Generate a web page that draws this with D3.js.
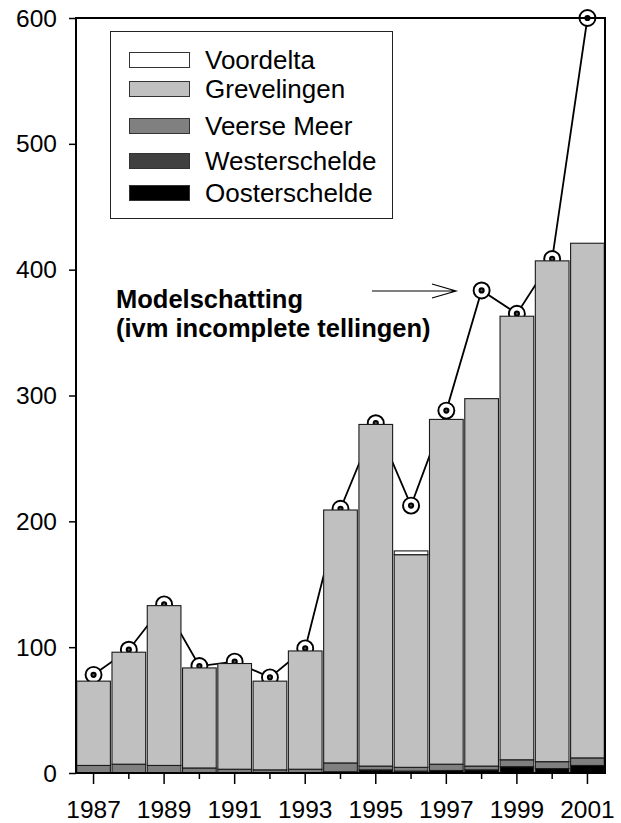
<!DOCTYPE html>
<html>
<head>
<meta charset="utf-8">
<script src="https://cdn.jsdelivr.net/npm/d3@7"></script>
<style>
  body { margin: 0; background: white; }
  svg text { font-family: 'Liberation Sans', Arial, sans-serif; fill: black; }
</style>
</head>
<body>
<div id="chart"></div>
<script>
// counts per area, 1987 - 2001
const years = [1987, 1988, 1989, 1990, 1991, 1992, 1993, 1994, 1995, 1996, 1997, 1998, 1999, 2000, 2001];
const oosterschelde = [0, 0, 0, 0, 0, 0, 0, 1, 2.5, 1.5, 2, 2.5, 5, 3.5, 6];
const westerschelde = [0, 0, 0, 0, 0, 0, 0, 0, 0, 0, 0, 0, 0, 0, 0];
const veerseMeer = [6, 7, 6, 4, 3, 2.5, 3, 7, 3, 3, 5, 3, 5.5, 5.5, 6];
const grevelingen = [67, 89, 127, 79.5, 84, 70.5, 94, 201, 271.5, 169, 274, 292, 352.5, 398, 409];
const voordelta = [0, 0, 0, 0, 0, 0, 0, 0, 0, 3, 0, 0, 0, 0, 0];
// model estimate (line with markers)
const modelschatting = [78, 98, 134, 85, 88.5, 76, 99, 210, 278, 212.5, 288, 383.5, 365, 408.5, 600];
const yTicks = [0, 100, 200, 300, 400, 500, 600];

const series = [
  { key: 'Oosterschelde', values: oosterschelde, color: '#000000' },
  { key: 'Westerschelde', values: westerschelde, color: '#404040' },
  { key: 'Veerse Meer', values: veerseMeer, color: '#808080' },
  { key: 'Grevelingen', values: grevelingen, color: '#c0c0c0' },
  { key: 'Voordelta', values: voordelta, color: '#ffffff' },
];

const makePlot = () => {
  const container = d3.select('#chart');
  container.selectAll('*').remove();

  const size = { width: 621, height: 823 };
  const plot = { left: 76, right: 605, top: 18, bottom: 773 };

  const svg = container
    .append('svg')
    .attr('width', size.width)
    .attr('height', size.height);

  const x = d3
    .scaleBand()
    .domain(years)
    .range([plot.left, plot.right])
    .paddingInner(0.045)
    .paddingOuter(0.02);

  const y = d3.scaleLinear().domain([0, 600]).range([plot.bottom, plot.top]);

  // stack the areas, bottom to top
  const table = years.map((yr, i) => {
    const row = { year: yr };
    series.forEach((s) => { row[s.key] = s.values[i]; });
    return row;
  });
  const stacked = d3.stack().keys(series.map((s) => s.key))(table);
  const colorOf = Object.fromEntries(series.map((s) => [s.key, s.color]));

  // model line sits behind the bars
  const cx = (yr) => x(yr) + x.bandwidth() / 2;
  const line = d3
    .line()
    .x((d, i) => cx(years[i]))
    .y((d) => y(d));

  svg
    .append('path')
    .datum(modelschatting)
    .attr('d', line)
    .attr('fill', 'none')
    .attr('stroke', 'black')
    .attr('stroke-width', 1.8);

  const markers = svg
    .append('g')
    .selectAll('g')
    .data(modelschatting)
    .enter()
    .append('g')
    .attr('transform', (d, i) => `translate(${cx(years[i])},${y(d)})`);
  markers
    .append('circle')
    .attr('r', 8)
    .attr('fill', 'white')
    .attr('stroke', 'black')
    .attr('stroke-width', 1.9);
  markers
    .append('circle')
    .attr('r', 2.1)
    .attr('fill', '#555')
    .attr('stroke', 'black')
    .attr('stroke-width', 2);

  svg
    .append('g')
    .selectAll('g')
    .data(stacked)
    .enter()
    .append('g')
    .attr('fill', (d) => colorOf[d.key])
    .selectAll('rect')
    .data((d) => d.filter((p) => p[1] - p[0] > 0))
    .enter()
    .append('rect')
    .attr('x', (d) => x(d.data.year))
    .attr('width', x.bandwidth())
    .attr('y', (d) => y(d[1]))
    .attr('height', (d) => y(d[0]) - y(d[1]))
    .attr('stroke', '#1a1a1a')
    .attr('stroke-width', 1.1);

  // axes
  const yAxis = svg
    .append('g')
    .attr('transform', `translate(${plot.left},0)`)
    .call(d3.axisLeft(y).tickValues(yTicks).tickSize(7).tickSizeOuter(0).tickPadding(12));
  yAxis.select('.domain').remove();
  yAxis.selectAll('line').attr('stroke-width', 1.5);
  yAxis.selectAll('text').attr('font-size', '24.5px').attr('dy', '0.33em');

  const xAxis = svg
    .append('g')
    .attr('transform', `translate(0,${plot.bottom})`)
    .call(
      d3
        .axisBottom(x)
        .tickSizeOuter(0)
        .tickSize(11)
        .tickPadding(17)
        .tickFormat((d) => (d % 2 === 1 ? d : '')),
    );
  xAxis.select('.domain').remove();
  xAxis
    .selectAll('.tick line')
    .attr('stroke-width', 1.5)
    .attr('y2', (d) => (d % 2 === 1 ? 11 : 6));
  xAxis.selectAll('text').attr('font-size', '24.5px');

  // frame
  svg
    .append('rect')
    .attr('x', plot.left)
    .attr('y', plot.top)
    .attr('width', plot.right - plot.left)
    .attr('height', plot.bottom - plot.top)
    .attr('fill', 'none')
    .attr('stroke', 'black')
    .attr('stroke-width', 2);

  // legend
  const legend = svg.append('g');
  legend
    .append('rect')
    .attr('x', 110.5)
    .attr('y', 31.5)
    .attr('width', 282)
    .attr('height', 187)
    .attr('fill', 'white')
    .attr('stroke', '#222')
    .attr('stroke-width', 1);

  const rowY = [52, 81, 118, 153, 185];
  series
    .slice()
    .reverse()
    .forEach((s, i) => {
      legend
        .append('rect')
        .attr('x', 129.5)
        .attr('y', rowY[i] + 0.5)
        .attr('width', 60)
        .attr('height', 15)
        .attr('fill', s.color)
        .attr('stroke', '#333')
        .attr('stroke-width', 1);
      legend
        .append('text')
        .attr('x', 205)
        .attr('y', rowY[i] + 16.5)
        .attr('font-size', '26px')
        .text(s.key);
    });

  // annotation
  const note = svg.append('g');
  note
    .append('text')
    .attr('x', 116)
    .attr('y', 308)
    .attr('font-size', '25.5px')
    .attr('font-weight', 'bold')
    .text('Modelschatting');
  note
    .append('text')
    .attr('x', 116)
    .attr('y', 337)
    .attr('font-size', '25.5px')
    .attr('font-weight', 'bold')
    .text('(ivm incomplete tellingen)');

  const arrow = d3.path();
  arrow.moveTo(372, 291);
  arrow.lineTo(456, 291);
  arrow.moveTo(432, 284);
  arrow.lineTo(456, 291);
  arrow.lineTo(432, 298);
  note
    .append('path')
    .attr('d', arrow.toString())
    .attr('fill', 'none')
    .attr('stroke', 'black')
    .attr('stroke-width', 1.2);
};

makePlot();
</script>
</body>
</html>
